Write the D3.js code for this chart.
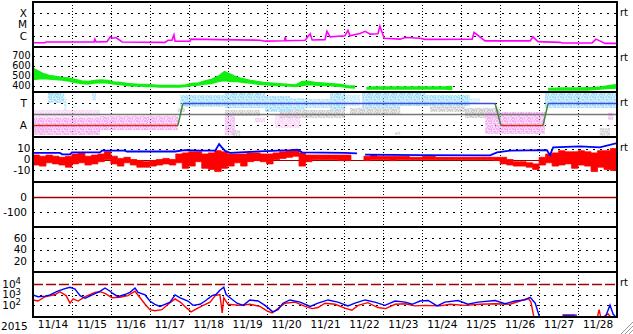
<!DOCTYPE html>
<meta charset="utf-8">
<style>
body { margin: 0; background: #fff; }
svg { display: block; font-family: "DejaVu Sans", Verdana, sans-serif; }
.frame line, .frame rect { fill: none; stroke: #000; stroke-width: 2; shape-rendering: crispEdges; }
.vgrid { stroke: #000; stroke-width: 1; stroke-dasharray: 1,2; shape-rendering: crispEdges; }
.hgrid { stroke: #000; stroke-width: 1; stroke-dasharray: 2,5; shape-rendering: crispEdges; }
.rt { font-size: 10px; }
</style>
<body>
<div id="chart"></div>
<script src="https://d3js.org/d3.v7.min.js"></script>
<script>
// time in days after 2015-11-14 00:00 UT
var t0 = Date.UTC(2015, 10, 14);
function toDate(d) { return new Date(t0 + d * 864e5); }

// X-ray flux (W/m2)
var xrayDay = [0,0.31,0.33,1.57,1.59,1.62,1.9,1.98,2.05,2.13,2.29,3.39,3.47,3.57,3.62,3.65,4.03,4.06,4.8,5.83,5.96,6.46,6.48,6.5,6.99,7.12,7.17,7.5,7.55,7.63,8.01,8.09,8.14,8.4,8.53,8.66,8.86,8.91,9.02,9.43,9.56,9.94,10.07,11.28,11.33,11.61,12.77,12.84,12.97,13.54,13.59,14.36,14.46,14.56,14.69,15];
var xrayFlux = [2.4e-7,2.4e-7,2.8e-7,2.8e-7,5e-7,2.8e-7,3e-7,7.7e-7,6e-7,7e-7,2.8e-7,2.6e-7,4e-7,4e-7,1.2e-6,3.2e-7,3.3e-7,5e-7,4.5e-7,4e-7,3.3e-7,3.6e-7,7.7e-7,3.6e-7,4e-7,1.5e-6,4.2e-7,4.5e-7,2.5e-6,8e-7,1e-6,3e-6,1e-6,1.6e-6,2.5e-6,1.4e-6,1.5e-6,7e-6,6e-7,5e-7,7e-7,6e-7,4.8e-7,5e-7,2e-6,3.5e-7,3.5e-7,8e-7,3e-7,2.6e-7,2.3e-7,2.3e-7,5e-7,3.5e-7,2.1e-7,2.1e-7];

// solar wind speed (km/s), 4-hour ranges, 6 per day
var speedLo = [460,470,465,460,455,445, 430,420,415,425,430,425, 415,410,400,395,395,390,
  390,385,385,385,385,390, 400,405,415,420,440,450, 440,440,430,425,415,410,
  405,400,400,395,390,400, 410,405,400,400,395,390, 380,375,null,365,365,365,
  365,365,365,365,365,365, 365,365,365,365,360,null, null,null,null,null,null,null,
  null,null,null,null,null,null, null,355,355,355,355,355, 355,355,360,365,370,375];
var speedHi = [570,520,500,490,480,475, 460,445,440,450,455,450, 435,430,420,415,410,410,
  405,400,400,400,400,405, 420,425,445,460,490,540, 510,480,465,450,440,430,
  425,420,415,410,405,440, 440,430,425,420,415,410, 395,395,null,380,385,385,
  385,385,385,385,385,385, 385,385,385,385,390,null, null,null,null,null,null,null,
  null,null,null,null,null,null, null,370,372,375,375,375, 375,378,380,385,395,410];

// IMF sector (T = toward, A = away)
var sectorDay = [0,3.72,3.85,11.87,12.02,13.1,13.23,15];
var sectorPol = ["A","A","T","T","A","A","T","T"];
// IMF angle clusters: [from day, to day, low deg, high deg, density]
var phiBlue = [[0.39,0.8,320,399,1],[0.8,0.86,260,358,0.6],[1.52,1.62,342,399,0.8],[3.78,4.93,285,383,1],
  [4.93,5.96,277,399,1],[5.96,6.6,244,375,1],[6.6,6.99,260,358,0.9],[6.99,7.63,277,350,0.8],
  [7.63,8.01,260,399,1],[8.01,8.4,293,383,0.6],[8.45,9.43,277,399,1],[9.43,10.07,293,399,1],
  [10.07,11.22,293,383,1],[11.22,11.48,310,358,0.5],[13.15,15,277,399,1]];
var phiGray = [[0.39,0.64,383,399,1],[0.05,0.39,72,121,0.8],[1.41,1.64,64,88,0.8],[3.72,3.9,244,277,0.8],
  [4.93,5.83,211,260,0.8],[5.11,5.32,48,96,0.8],[6.34,8.01,195,260,0.9],[8.14,9.43,219,277,0.9],
  [9.3,9.43,56,80,0.8],[10.2,11.1,244,293,0.9],[11.1,12.0,195,277,1],[14.56,14.82,48,113,0.8]];
var phiPink = [[0,1.72,56,195,1],[0,1.72,195,260,0.5],[1.72,3.72,96,211,1],[4.93,5.19,56,219,0.8],
  [5.7,5.96,162,195,0.6],[6.22,6.86,113,219,0.5],[11.61,13.15,64,244,1],[14.77,14.9,178,236,0.8]];

// IMF Bz range (nT), 4-hour ranges
var bzLo = [-5,-6,-3,-4,-5,-7, -4,-3,-5,-4,-2,0, -4,-6,-3,-5,-7,-7, -6,-5,-4,-5,-3,-8,
  -6,-2,-8,-9,-11,-8, -6,-3,-6,-2,-1,-2, -4,0,1,2,3,-6, -2,0,0,0,0,-1,
  -1,0,null,-1,0,0, 0,-1,0,0,0,0, 0,0,0,0,0,0, 0,0,0,0,0,-1,
  -4,-5,-6,-6,-7,-9, -5,-3,-6,-5,-4,-8, -5,-6,-11,-7,-9,-10];
var bzHi = [4,3,4,3,2,3, 5,6,3,4,5,7, 3,1,2,0,-1,-2, -1,0,1,0,5,6,
  7,7,5,6,8,7, 5,5,5,6,6,5, 5,6,7,8,9,6, 4,4,4,4,4,4,
  4,3,null,3,4,3, 3,3,3,3,2,2, 3,3,2,2,2,2, 2,2,2,2,2,2,
  2,0,-2,-2,-3,-4, 2,5,6,8,7,7, 8,7,6,8,8,10];
// IMF Bt (nT)
var btDay = [0,0.69,0.75,0.95,1.0,1.72,1.77,2.36,2.41,3.65,3.9,4.29,4.68,4.78,4.85,4.93,5.06,5.57,6.6,6.8,6.91,8.01,8.32,8.4,8.53,9.94,11.74,11.92,12.25,13.2,13.28,13.36,14.05,14.56,15];
var btVal = [6,6,4.7,4.7,6.5,6.5,8,8,7.3,7.3,8.5,8,8,14,11,8,6,7,8.5,9,6.5,6,5.5,null,4.5,4,3.8,6.5,8,8.5,4,11,12,11,15];

// electron flux, log10
var eBlueDay = [0,0.13,0.31,0.44,0.62,0.82,0.95,1.08,1.21,1.34,1.52,1.72,1.85,1.98,2.05,2.18,2.36,2.49,2.62,2.7,2.88,3.0,3.13,3.26,3.39,3.52,3.65,3.78,3.98,4.11,4.29,4.42,4.6,4.7,4.8,4.9,4.96,5.06,5.24,5.4,5.57,5.78,5.96,6.16,6.29,6.42,6.6,6.86,7.12,7.32,7.58,7.83,8.09,8.27,8.53,8.78,9.04,9.3,9.56,9.74,9.94,10.15,10.38,10.58,10.92,11.17,11.43,11.87,12.12,12.38,12.64,12.77,12.9,13.02,13.3,13.61,13.97,14.3,14.69,14.82,14.9,15];
var eBlueLog = [2.96,2.8,2.85,2.96,3.3,3.55,3.67,3.5,2.9,2.65,2.96,3.3,3.6,3.3,3.1,2.8,3.0,3.2,3.6,3.2,2.96,2.4,2.1,1.9,2.1,2.3,2.96,2.7,2.4,2.0,2.1,2.4,2.9,3.0,3.4,3.67,3.0,2.7,2.2,2.0,2.5,2.4,2.0,1.4,1.6,2.2,2.5,2.3,1.9,2.2,2.5,2.3,1.95,2.2,2.5,2.3,2.0,2.4,2.3,2.1,2.4,2.45,1.95,2.3,2.45,2.1,2.3,2.45,2.15,2.4,2.5,2.74,2.2,0.8,null,1.1,1.1,null,0.8,2.03,1.2,0.8];
var eRedDay = [0,0.13,0.31,0.57,0.69,0.85,0.95,1.03,1.16,1.34,1.59,1.72,1.85,2.03,2.23,2.44,2.62,2.75,2.88,3.0,3.13,3.31,3.47,3.65,3.78,3.93,4.06,4.21,4.37,4.55,4.68,4.8,4.86,4.9,5.01,5.32,5.57,5.83,6.01,6.14,6.29,6.47,6.73,6.99,7.17,7.32,7.5,7.76,8.01,8.19,8.35,8.6,8.86,9.06,9.3,9.56,9.81,10.07,10.45,10.71,11.1,11.48,11.87,12.25,12.51,12.72,12.79,12.87,13.2,13.59,13.92,14.2,14.49,14.54,14.59,14.77,14.87,15];
var eRedLog = [2.5,2.4,2.8,3.0,3.26,2.9,2.2,2.6,2.4,2.8,3.2,3.26,3.1,2.7,2.75,2.9,3.3,2.7,2.1,1.6,1.5,1.6,2.1,2.6,2.3,1.8,1.4,1.7,2.0,2.3,2.9,3.0,1.3,2.7,2.1,2.0,2.1,1.9,1.5,1.3,1.7,2.2,2.3,1.9,1.7,1.8,2.2,2.1,1.75,1.55,2.0,2.25,1.8,1.7,2.1,2.15,1.95,2.0,1.95,2.1,2.0,2.1,2.15,2.1,2.4,2.65,2.3,0.8,null,1.1,1.1,null,0.8,1.6,0.8,1.2,0.8,null];

var W = 633, H = 334, L = 33, R = 617;
var tops = [2, 47, 92, 137, 182, 227, 272], ph = 45, bottom = 317;

var svg = d3.select("#chart").append("svg").attr("width", W).attr("height", H);
var defs = svg.append("defs");

var x = d3.scaleUtc().domain([toDate(0), toDate(15)]).range([L, R]);

var ys = [
    d3.scaleLog().domain([1e-7, 1e-3]).range([tops[0] + ph, tops[0]]),
    d3.scaleLinear().domain([335, 785]).range([tops[1] + ph, tops[1]]),
    d3.scaleLinear().domain([39, 407]).range([tops[2] + ph, tops[2]]),
    d3.scaleLinear().domain([-20.5, 20.5]).range([tops[3] + ph, tops[3]]),
    d3.scaleLinear().domain([-198, 102]).range([tops[4] + ph, tops[4]]),
    d3.scaleLinear().domain([0, 80]).range([tops[5] + ph, tops[5]]),
    d3.scaleLog().domain([Math.pow(10, 0.925), Math.pow(10, 5.08)]).range([tops[6] + ph, tops[6]])
];
function num(d) { return String(d); }   // plain hyphen minus, like the original
var tickSets = [
    { v: [1e-6, 1e-5, 1e-4], f: function(d) { return d < 5e-6 ? "C" : d < 5e-5 ? "M" : "X"; }, pad: 6, fs: 10.5, grid: [1e-6, 1e-5, 1e-4], rt: true },
    { v: [400, 500, 600, 700], f: num, pad: 2.5, fs: 9.6, grid: [400, 500, 600, 700], rt: true },
    { v: [315, 135], f: function(d) { return d > 200 ? "T" : "A"; }, pad: 6, fs: 10.5, grid: [315, 135], rt: true },
    { v: [10, 0, -10], f: num, pad: 2.5, fs: 10.5, grid: [10, -10], rt: true },
    { v: [0, -100], f: num, pad: 6, fs: 10.5, grid: [-100], rt: false },
    { v: [60, 40, 20], f: num, pad: 6, fs: 10.5, grid: [20, 40, 60], rt: false },
    { v: [1e2, 1e3, 1e4], f: function(d) { return "10"; }, pad: 12, fs: 10.5, grid: [1e2, 1e3], rt: true }
];

// speckle patterns for the angle scatter
var speckle = [[0,0,2,2],[3,0,1,3],[5,1,2,1],[1,3,3,1],[6,3,2,2],[0,5,2,2],[3,5,2,1],[4,6,1,2],[7,6,1,2],[2,7,1,1],[5,3,1,1],[2,1,1,1],[6,0,1,1],[1,6,2,1]];
var scatterColors = { blue: "#a2def8", gray: "#c8c8c8", pink: "#f4b0f2" };
Object.keys(scatterColors).forEach(function(k) {
    var p = defs.append("pattern").attr("id", "spk-" + k)
        .attr("width", 8).attr("height", 8).attr("patternUnits", "userSpaceOnUse");
    p.selectAll("rect").data(speckle).enter().append("rect")
        .attr("x", function(d) { return d[0]; }).attr("y", function(d) { return d[1]; })
        .attr("width", function(d) { return d[2]; }).attr("height", function(d) { return d[3]; })
        .attr("fill", scatterColors[k]);
});

var days = d3.range(1, 15);
var layers = [];
tops.forEach(function(top, i) {
    defs.append("clipPath").attr("id", "clip" + i).append("rect")
        .attr("x", L).attr("y", top).attr("width", R - L).attr("height", ph);
    var g = svg.append("g");
    // grid
    g.selectAll(".vgrid").data(days).enter().append("line").attr("class", "vgrid")
        .attr("x1", function(d) { return Math.round(x(toDate(d))) + 0.5; })
        .attr("x2", function(d) { return Math.round(x(toDate(d))) + 0.5; })
        .attr("y1", top).attr("y2", top + ph);
    g.selectAll(".hgrid").data(tickSets[i].grid).enter().append("line").attr("class", "hgrid")
        .attr("x1", L).attr("x2", R)
        .attr("y1", function(d) { return Math.round(ys[i](d)) + 0.5; })
        .attr("y2", function(d) { return Math.round(ys[i](d)) + 0.5; });
    // y labels
    var ax = g.append("g").attr("transform", "translate(" + L + ",0)")
        .call(d3.axisLeft(ys[i]).tickValues(tickSets[i].v).tickFormat(tickSets[i].f)
            .tickSize(0).tickPadding(tickSets[i].pad));
    ax.select(".domain").remove();
    ax.attr("font-size", tickSets[i].fs).attr("font-family", null);
    ax.selectAll("text").attr("fill", "#000");
    if (i === 6) {
        ax.selectAll("text").append("tspan").attr("dy", "-0.45em").attr("font-size", 8.5)
            .text(function(d) { return Math.round(Math.log10(d)); });
    }
    if (tickSets[i].rt) {
        svg.append("text").attr("class", "rt").attr("x", 620).attr("y", top + 14).text("rt");
    }
    layers.push(g.append("g").attr("clip-path", "url(#clip" + i + ")"));
});

// panel 1: X-ray
layers[0].append("path")
    .datum(d3.zip(xrayDay, xrayFlux))
    .attr("fill", "none").attr("stroke", "#ff00ff").attr("stroke-width", 1.6)
    .attr("d", d3.line().x(function(d) { return x(toDate(d[0])); }).y(function(d) { return ys[0](d[1]); }));

// 4-hour range helpers
function rangeData(lo, hi) {
    return lo.map(function(v, i) {
        var d = i === 0 ? 0 : i === lo.length - 1 ? 15 : (i + 0.5) / 6;
        return { t: toDate(d), lo: v, hi: hi[i] };
    });
}
function stepData(lo, hi) {
    var pts = lo.map(function(v, i) { return { t: toDate(i / 6), lo: v, hi: hi[i] }; });
    pts.push({ t: toDate(15), lo: lo[lo.length - 1], hi: hi[hi.length - 1] });
    return pts;
}
function bandArea(y, curve) {
    return d3.area().defined(function(d) { return d.lo != null; })
        .curve(curve || d3.curveLinear)
        .x(function(d) { return x(d.t); })
        .y0(function(d) { return y(d.lo); }).y1(function(d) { return y(d.hi); });
}

// panel 2: solar wind speed
layers[1].append("path").datum(rangeData(speedLo, speedHi))
    .attr("fill", "#11ee11").attr("stroke", "#11ee11").attr("stroke-width", 1.5)
    .attr("d", bandArea(ys[1]));

// panel 3: sector
var clusters = [["gray", phiGray], ["pink", phiPink], ["blue", phiBlue]];
clusters.forEach(function(c) {
    var sel = layers[2].selectAll(".c-" + c[0]).data(c[1]).enter().append("g")
        .attr("opacity", function(d) { return d[4]; });
    function place(s) {
        s.attr("x", function(d) { return x(toDate(d[0])); })
            .attr("width", function(d) { return x(toDate(d[1])) - x(toDate(d[0])); })
            .attr("y", function(d) { return ys[2](d[3]); })
            .attr("height", function(d) { return ys[2](d[2]) - ys[2](d[3]); });
    }
    sel.append("rect").call(place).attr("fill", scatterColors[c[0]]).attr("opacity", 0.45);
    sel.append("rect").call(place).attr("fill", "url(#spk-" + c[0] + ")");
});
layers[2].append("line").attr("x1", L).attr("x2", R)
    .attr("y1", Math.round(ys[2](225)) + 0.5).attr("y2", Math.round(ys[2](225)) + 0.5)
    .attr("stroke", "#777").attr("stroke-width", 1.5);
var polVal = { T: 315, A: 135 };
var segs = d3.pairs(d3.zip(sectorDay, sectorPol));
layers[2].selectAll(".sect").data(segs).enter().append("line")
    .attr("x1", function(d) { return x(toDate(d[0][0])); })
    .attr("x2", function(d) { return x(toDate(d[1][0])); })
    .attr("y1", function(d) { return Math.round(ys[2](polVal[d[0][1]])) + 0.5; })
    .attr("y2", function(d) { return Math.round(ys[2](polVal[d[1][1]])) + 0.5; })
    .attr("stroke-width", 1.5)
    .attr("stroke", function(d) {
        if (d[0][1] !== d[1][1]) return "#3d8a3d";
        return d[0][1] === "T" ? "#3c4ce0" : "#e02424";
    });

// panel 4: IMF
layers[3].append("line").attr("x1", L).attr("x2", R)
    .attr("y1", Math.round(ys[3](0)) + 0.5).attr("y2", Math.round(ys[3](0)) + 0.5)
    .attr("stroke", "#a00000").attr("stroke-width", 1);
layers[3].append("path").datum(stepData(bzLo, bzHi))
    .attr("fill", "#ff0000").attr("stroke", "#ff0000").attr("stroke-width", 0.8)
    .attr("d", bandArea(ys[3], d3.curveStepAfter));
layers[3].append("path").datum(d3.zip(btDay, btVal))
    .attr("fill", "none").attr("stroke", "#0000ff").attr("stroke-width", 1.8)
    .attr("d", d3.line().defined(function(d) { return d[1] != null; })
        .x(function(d) { return x(toDate(d[0])); }).y(function(d) { return ys[3](d[1]); }));

// panel 5: Dst zero line
layers[4].append("line").attr("x1", L).attr("x2", R)
    .attr("y1", Math.round(ys[4](0)) + 0.5).attr("y2", Math.round(ys[4](0)) + 0.5)
    .attr("stroke", "#a00000").attr("stroke-width", 1.5);

// panel 7: electrons
layers[6].append("line").attr("x1", L).attr("x2", R)
    .attr("y1", Math.round(ys[6](1e4)) + 0.5).attr("y2", Math.round(ys[6](1e4)) + 0.5)
    .attr("stroke", "#a00000").attr("stroke-width", 1.5).attr("stroke-dasharray", "10,3");
[[eRedDay, eRedLog, "#ff0000"], [eBlueDay, eBlueLog, "#0000ff"]].forEach(function(s) {
    layers[6].append("path").datum(d3.zip(s[0], s[1]))
        .attr("fill", "none").attr("stroke", s[2]).attr("stroke-width", 1.4)
        .attr("d", d3.line().defined(function(d) { return d[1] != null; })
            .x(function(d) { return x(toDate(d[0])); })
            .y(function(d) { return ys[6](Math.pow(10, d[1])); }));
});

// frame
var frame = svg.append("g").attr("class", "frame");
frame.append("rect").attr("x", L).attr("y", tops[0]).attr("width", R - L).attr("height", bottom - tops[0]);
frame.selectAll("line").data(tops.slice(1)).enter().append("line")
    .attr("x1", L).attr("x2", R).attr("y1", function(d) { return d; }).attr("y2", function(d) { return d; });

// date axis
var noons = d3.range(0, 15).map(function(d) { return toDate(d + 0.5); });
var xa = svg.append("g").attr("transform", "translate(0," + bottom + ")")
    .call(d3.axisBottom(x).tickValues(noons).tickFormat(d3.utcFormat("%m/%d")).tickSize(0).tickPadding(4));
xa.select(".domain").remove();
xa.attr("font-size", 10.5).attr("font-family", null);
xa.selectAll("text").attr("fill", "#000");
svg.append("text").attr("x", 1).attr("y", 330).attr("font-size", 10.5).text("2015");

// window resize grip
svg.selectAll(".grip").data([4, 8, 12]).enter().append("line")
    .attr("x1", function(d) { return W - d; }).attr("y1", H)
    .attr("x2", W).attr("y2", function(d) { return H - d; })
    .attr("stroke", "#999").attr("stroke-width", 1);
</script>
